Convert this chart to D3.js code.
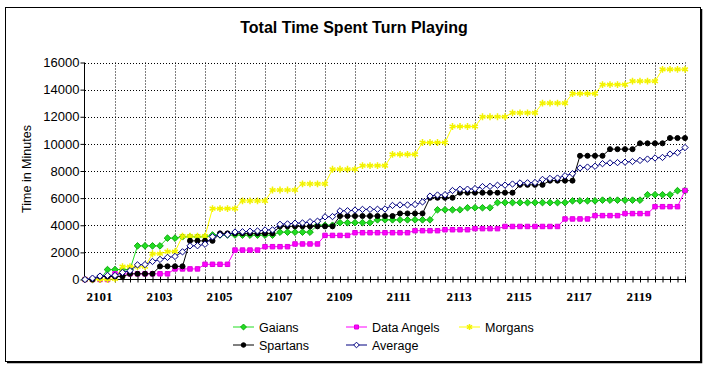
<!DOCTYPE html>
<html>
<head>
<meta charset="utf-8">
<script src="https://cdn.jsdelivr.net/npm/d3@7"></script>
<style>
  body { margin: 0; background: #ffffff; }
  svg { display: block; }
</style>
</head>
<body>
<div id="chart"></div>
<script>
// chart values, one point per quarter from 2101
var yearLabels = ["2101", "2103", "2105", "2107", "2109", "2111", "2113", "2115", "2117", "2119"];
var yTicks = [0, 2000, 4000, 6000, 8000, 10000, 12000, 14000, 16000];
var seriesNames = ["Gaians", "Data Angels", "Morgans", "Spartans", "Average"];

var gaians = [
  0, 0, 0, 730, 730, 730, 730, 2480, 2480, 2480,
  2480, 3050, 3050, 3150, 3150, 3150, 3150, 3280, 3280, 3280,
  3280, 3270, 3270, 3270, 3270, 3270, 3490, 3490, 3490, 3490,
  3490, 4000, 4000, 4000, 4190, 4190, 4190, 4190, 4190, 4400,
  4400, 4400, 4400, 4400, 4400, 4400, 4400, 5140, 5140, 5140,
  5140, 5290, 5290, 5290, 5290, 5670, 5670, 5670, 5670, 5670,
  5670, 5670, 5670, 5670, 5670, 5800, 5800, 5800, 5800, 5850,
  5850, 5850, 5850, 5850, 5850, 6250, 6250, 6250, 6250, 6550,
  6550];

var dataAngels = [
  0, 0, 0, 0, 420, 420, 420, 420, 420, 420,
  420, 420, 780, 780, 780, 780, 1120, 1120, 1120, 1120,
  2170, 2170, 2170, 2170, 2420, 2420, 2420, 2420, 2620, 2620,
  2620, 2620, 3250, 3250, 3250, 3250, 3450, 3450, 3450, 3450,
  3450, 3450, 3450, 3450, 3600, 3600, 3600, 3600, 3670, 3670,
  3670, 3670, 3750, 3750, 3750, 3750, 3910, 3910, 3910, 3910,
  3910, 3910, 3910, 3910, 4465, 4465, 4465, 4465, 4710, 4710,
  4710, 4710, 4860, 4860, 4860, 4860, 5370, 5370, 5370, 5370,
  6560];

var morgans = [
  0, 0, 0, 0, 50, 950, 950, 950, 950, 1900,
  1900, 2050, 2050, 3200, 3200, 3200, 3200, 5230, 5230, 5230,
  5230, 5800, 5800, 5800, 5800, 6600, 6600, 6600, 6600, 7050,
  7050, 7050, 7050, 8130, 8130, 8130, 8130, 8390, 8390, 8390,
  8390, 9220, 9220, 9220, 9220, 10100, 10100, 10100, 10100, 11280,
  11280, 11280, 11280, 12000, 12000, 12000, 12000, 12290, 12290, 12290,
  12290, 13000, 13000, 13000, 13000, 13710, 13710, 13710, 13710, 14370,
  14370, 14370, 14370, 14620, 14620, 14620, 14620, 15500, 15500, 15500,
  15500];

var spartans = [
  0, 0, 220, 220, 220, 220, 420, 420, 420, 420,
  970, 970, 970, 970, 2850, 2850, 2850, 2850, 3400, 3400,
  3400, 3400, 3400, 3400, 3400, 3400, 3920, 3920, 3920, 3920,
  3920, 3920, 3920, 3920, 4680, 4680, 4680, 4680, 4680, 4680,
  4680, 4680, 4870, 4870, 4870, 4870, 6030, 6030, 6030, 6030,
  6400, 6400, 6400, 6400, 6400, 6400, 6400, 6400, 6980, 6980,
  6980, 6980, 7290, 7290, 7290, 7290, 9120, 9120, 9120, 9120,
  9610, 9610, 9610, 9610, 10040, 10040, 10040, 10040, 10430, 10430,
  10430];

var average = [
  0, 100, 250, 300, 300, 520, 650, 1080, 1100, 1330,
  1480, 1630, 1700, 2040, 2480, 2490, 2600, 3150, 3290, 3300,
  3500, 3520, 3560, 3580, 3650, 3660, 4070, 4100, 4150, 4170,
  4260, 4300, 4620, 4640, 5060, 5070, 5120, 5170, 5170, 5180,
  5200, 5460, 5500, 5500, 5530, 5720, 6150, 6230, 6250, 6560,
  6650, 6660, 6700, 6850, 6870, 6950, 6960, 7040, 7120, 7130,
  7150, 7380, 7450, 7480, 7650, 7800, 8220, 8290, 8350, 8540,
  8600, 8620, 8650, 8700, 8780, 8880, 8960, 9000, 9250, 9350,
  9730];

var svgWidth = 716;
var svgHeight = 376;

// square diamond marker (d3's own diamond is too tall)
var diamond = {
  draw: function (context, size) {
    var r = Math.sqrt(size / 2);
    context.moveTo(0, -r);
    context.lineTo(r, 0);
    context.lineTo(0, r);
    context.lineTo(-r, 0);
    context.closePath();
  }
};

var svg = d3.select("#chart")
  .append("svg")
  .attr("width", svgWidth)
  .attr("height", svgHeight)
  .style("font-family", "Arial, 'Liberation Sans', sans-serif");

// outer frame with a little shadow on right and bottom
svg.append("rect")
  .attr("x", 5.5).attr("y", 7.5)
  .attr("width", 695).attr("height", 354)
  .attr("fill", "white").attr("stroke", "black");
svg.append("path")
  .attr("d", "M701.5,9V362.5H7")
  .attr("fill", "none").attr("stroke", "black").attr("stroke-width", 1.5);

// title
svg.append("text")
  .attr("x", 354).attr("y", 33)
  .attr("text-anchor", "middle")
  .attr("font-size", "16px").attr("font-weight", "bold")
  .text("Total Time Spent Turn Playing");

var nPoints = gaians.length;

var xScale = d3.scaleLinear()
  .domain([0, nPoints - 1])
  .range([85, 685]);

var yScale = d3.scaleLinear()
  .domain([0, 16000])
  .range([279.5, 62.5]);

// dotted gridlines
var grid = svg.append("g")
  .attr("stroke", "black")
  .attr("stroke-dasharray", "1,2");

grid.selectAll("line.h")
  .data(yTicks.filter(d => d > 0))
  .enter().append("line")
  .attr("x1", xScale(0)).attr("x2", xScale(nPoints - 1))
  .attr("y1", d => Math.round(yScale(d)) + 0.5)
  .attr("y2", d => Math.round(yScale(d)) + 0.5);

grid.selectAll("line.v")
  .data(d3.range(4, nPoints, 4))
  .enter().append("line")
  .attr("x1", d => Math.round(xScale(d)) + 0.5)
  .attr("x2", d => Math.round(xScale(d)) + 0.5)
  .attr("y1", yScale(16000)).attr("y2", yScale(0));

// y axis
var yAxis = d3.axisLeft(yScale)
  .tickValues(yTicks)
  .tickSize(4)
  .tickPadding(1)
  .tickFormat(d3.format("d"));

var yAxisG = svg.append("g")
  .attr("transform", "translate(84.5,0)")
  .call(yAxis);
yAxisG.select(".domain").attr("d", "M0," + yScale(16000) + "V" + yScale(0));
yAxisG.selectAll("text")
  .attr("font-size", "13px")
  .attr("font-family", "Arial, 'Liberation Sans', sans-serif")
  .attr("fill", "black");

// x axis, a small cross tick at every point
var xAxis = d3.axisBottom(xScale)
  .tickValues(d3.range(0, nPoints))
  .tickSize(3)
  .tickFormat(d => d % 8 === 0 ? yearLabels[d / 8] : "");

var xAxisG = svg.append("g")
  .attr("transform", "translate(0,279.5)")
  .call(xAxis);
xAxisG.select(".domain").attr("d", "M" + xScale(0) + ",0H" + xScale(nPoints - 1));
xAxisG.selectAll(".tick line").attr("y1", -3).attr("y2", 3);
xAxisG.selectAll("text")
  .attr("text-anchor", "start")
  .attr("dx", "1")
  .attr("y", 12)
  .attr("font-size", "13px")
  .attr("font-weight", "bold")
  .attr("font-family", "'Liberation Serif', 'Times New Roman', serif")
  .attr("fill", "black");

// y axis title
svg.append("text")
  .attr("transform", "translate(31,169) rotate(-90)")
  .attr("text-anchor", "middle")
  .attr("font-size", "12.5px")
  .text("Time in Minutes");

// series styles
var series = [
  { name: "Gaians", values: gaians, color: "#22dd22", symbol: diamond, size: 22, fill: "#22dd22", stroke: "#11aa11" },
  { name: "Data Angels", values: dataAngels, color: "#ff00ff", symbol: d3.symbolSquare, size: 20, fill: "#ff00ff", stroke: "#dd00dd" },
  { name: "Morgans", values: morgans, color: "#ffff00", symbol: d3.symbolAsterisk, size: 32, fill: "none", stroke: "#f2f200" },
  { name: "Spartans", values: spartans, color: "#000000", symbol: d3.symbolCircle, size: 20, fill: "#000000", stroke: "#000000" },
  { name: "Average", values: average, color: "#000080", symbol: diamond, size: 20, fill: "#ffffff", stroke: "#000080" }
];

var line = d3.line()
  .x((d, i) => xScale(i))
  .y(d => yScale(d));

series.forEach(function (s) {
  var g = svg.append("g");
  g.append("path")
    .datum(s.values)
    .attr("d", line)
    .attr("fill", "none")
    .attr("stroke", s.color)
    .attr("stroke-width", 1);

  g.selectAll("path.mark")
    .data(s.values)
    .enter().append("path")
    .attr("class", "mark")
    .attr("transform", (d, i) => "translate(" + xScale(i) + "," + yScale(d) + ")")
    .attr("d", d3.symbol().type(s.symbol).size(s.size))
    .attr("fill", s.fill)
    .attr("stroke", s.stroke)
    .attr("stroke-width", s.symbol === d3.symbolAsterisk ? 1.5 : 1);
});

// legend
var legendPos = [
  { x: 233, y: 327 },
  { x: 346, y: 327 },
  { x: 459, y: 327 },
  { x: 233, y: 345 },
  { x: 346, y: 345 }
];

series.forEach(function (s, i) {
  var p = legendPos[i];
  var lg = svg.append("g").attr("transform", "translate(" + p.x + "," + p.y + ")");
  lg.append("line")
    .attr("x1", 0).attr("x2", 21)
    .attr("stroke", s.color);
  lg.append("path")
    .attr("transform", "translate(10.5,0)")
    .attr("d", d3.symbol().type(s.symbol).size(s.size * 0.8))
    .attr("fill", s.fill)
    .attr("stroke", s.stroke)
    .attr("stroke-width", s.symbol === d3.symbolAsterisk ? 1.5 : 1);
  lg.append("text")
    .attr("x", 26).attr("y", 4.5)
    .attr("font-size", "12.5px")
    .text(seriesNames[i]);
});
</script>
</body>
</html>
